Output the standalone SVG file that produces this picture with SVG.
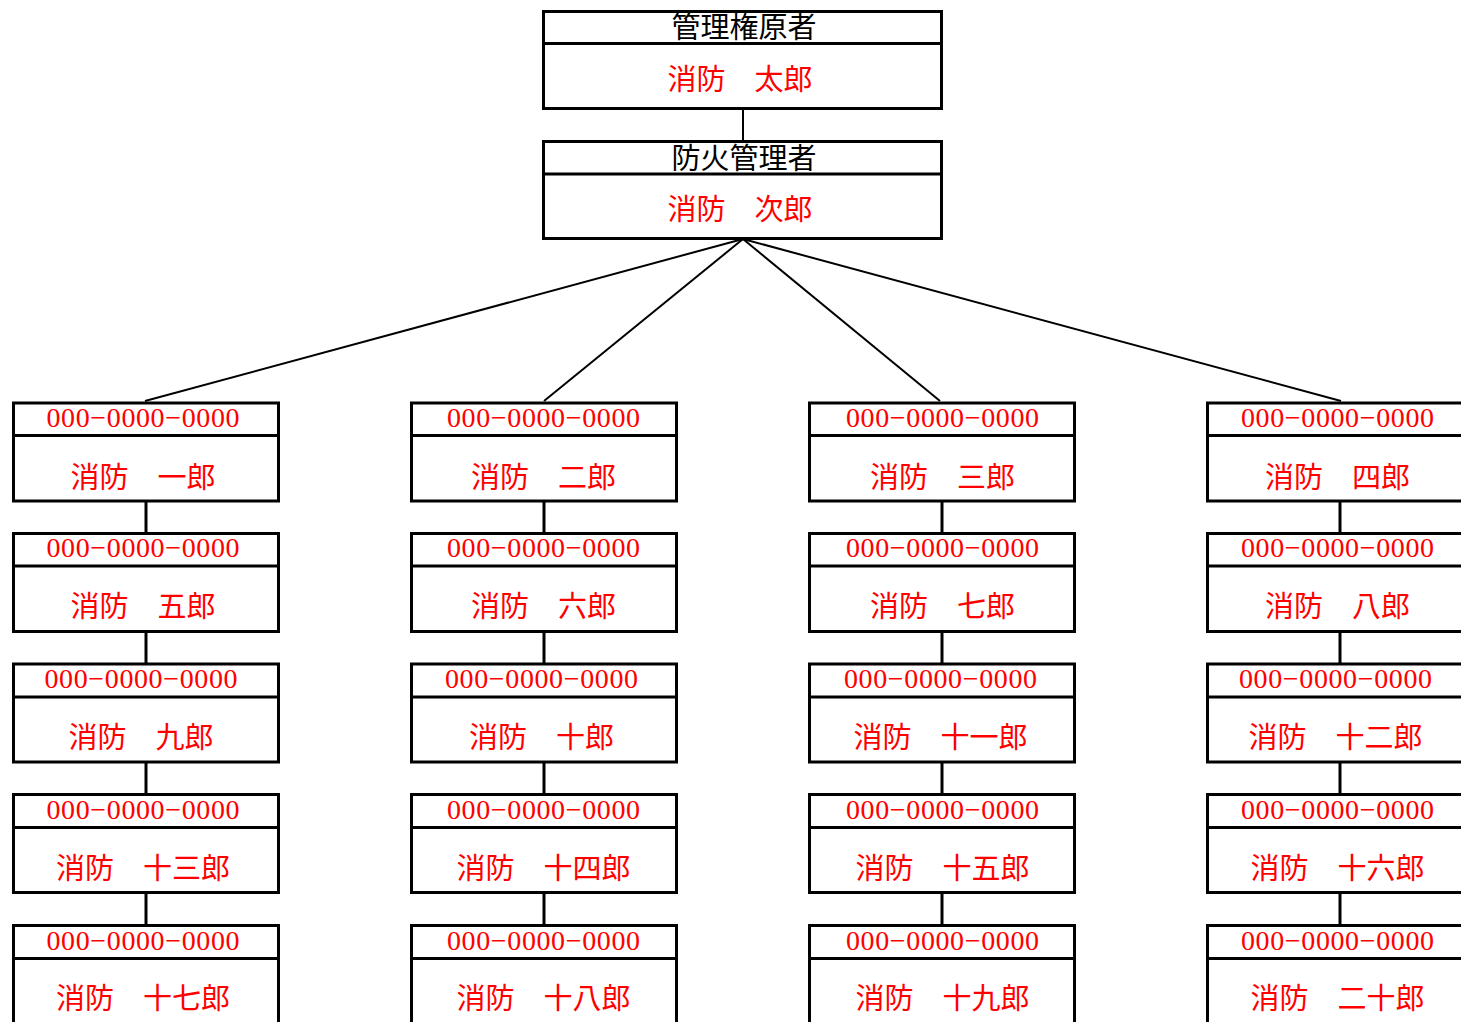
<svg xmlns="http://www.w3.org/2000/svg" width="1461" height="1022" viewBox="0 0 1461 1022">
<style>
.box{fill:#fff;stroke:#000;stroke-width:3}
.div{stroke:#000;stroke-width:3}
.hd{font-family:"Liberation Serif","Noto Sans CJK JP",serif;font-size:29px;fill:#000;text-anchor:middle}
.nm{font-family:"Liberation Serif","Noto Sans CJK JP",serif;font-size:29px;fill:#f00;text-anchor:middle}
.ph{font-family:"Liberation Serif",serif;font-size:28px;fill:#f00;text-anchor:middle}
.c{stroke:#000;fill:none}
</style>
<rect width="1461" height="1022" fill="#fff"/>
<g id="connectors">
<line class="c" x1="743" y1="109" x2="743" y2="141" stroke-width="2"/>
<line class="c" x1="743" y1="239" x2="145" y2="401" stroke-width="2"/>
<line class="c" x1="743" y1="239" x2="544" y2="401" stroke-width="2"/>
<line class="c" x1="743" y1="239" x2="940" y2="401" stroke-width="2"/>
<line class="c" x1="743" y1="239" x2="1341" y2="401" stroke-width="2"/>
<g stroke-width="3" class="c">
<line class="c" x1="146" y1="501" x2="146" y2="533"/>
<line class="c" x1="146" y1="631" x2="146" y2="664"/>
<line class="c" x1="146" y1="762" x2="146" y2="794"/>
<line class="c" x1="146" y1="892" x2="146" y2="925"/>
<line class="c" x1="544" y1="501" x2="544" y2="533"/>
<line class="c" x1="544" y1="631" x2="544" y2="664"/>
<line class="c" x1="544" y1="762" x2="544" y2="794"/>
<line class="c" x1="544" y1="892" x2="544" y2="925"/>
<line class="c" x1="942" y1="501" x2="942" y2="533"/>
<line class="c" x1="942" y1="631" x2="942" y2="664"/>
<line class="c" x1="942" y1="762" x2="942" y2="794"/>
<line class="c" x1="942" y1="892" x2="942" y2="925"/>
<line class="c" x1="1340" y1="501" x2="1340" y2="533"/>
<line class="c" x1="1340" y1="631" x2="1340" y2="664"/>
<line class="c" x1="1340" y1="762" x2="1340" y2="794"/>
<line class="c" x1="1340" y1="892" x2="1340" y2="925"/>
</g>
</g>
<g id="n-top">
<rect class="box" x="543.5" y="11.5" width="398" height="97"/>
<line class="div" x1="543.5" y1="43.5" x2="941.5" y2="43.5"/>
<text class="hd" x="744" y="37.5">管理権原者</text>
<text class="nm" x="740" y="90">消防　太郎</text>
</g>
<g id="n-fire">
<rect class="box" x="543.5" y="141.5" width="398" height="97"/>
<line class="div" x1="543.5" y1="174" x2="941.5" y2="174"/>
<text class="hd" x="744" y="168.5">防火管理者</text>
<text class="nm" x="740" y="219.5">消防　次郎</text>
</g>
<g id="n1"><rect class="box" x="13.5" y="403" width="265" height="98"/><line class="div" x1="13.5" y1="435.5" x2="278.5" y2="435.5"/><text class="ph" x="143" y="426.5" textLength="193">000−0000−0000</text><text class="nm" x="143" y="487.5">消防　一郎</text></g>
<g id="n2"><rect class="box" x="411.5" y="403" width="265" height="98"/><line class="div" x1="411.5" y1="435.5" x2="676.5" y2="435.5"/><text class="ph" x="543.5" y="426.5" textLength="193">000−0000−0000</text><text class="nm" x="543.5" y="487.5">消防　二郎</text></g>
<g id="n3"><rect class="box" x="809.5" y="403" width="265" height="98"/><line class="div" x1="809.5" y1="435.5" x2="1074.5" y2="435.5"/><text class="ph" x="942.5" y="426.5" textLength="193">000−0000−0000</text><text class="nm" x="942.5" y="487.5">消防　三郎</text></g>
<g id="n4"><rect class="box" x="1207.5" y="403" width="265" height="98"/><line class="div" x1="1207.5" y1="435.5" x2="1472.5" y2="435.5"/><text class="ph" x="1337.5" y="426.5" textLength="193">000−0000−0000</text><text class="nm" x="1337.5" y="487.5">消防　四郎</text></g>

<g id="n5"><rect class="box" x="13.5" y="533.5" width="265" height="98"/><line class="div" x1="13.5" y1="566" x2="278.5" y2="566"/><text class="ph" x="143" y="557" textLength="193">000−0000−0000</text><text class="nm" x="143" y="617">消防　五郎</text></g>
<g id="n6"><rect class="box" x="411.5" y="533.5" width="265" height="98"/><line class="div" x1="411.5" y1="566" x2="676.5" y2="566"/><text class="ph" x="543.5" y="557" textLength="193">000−0000−0000</text><text class="nm" x="543.5" y="617">消防　六郎</text></g>
<g id="n7"><rect class="box" x="809.5" y="533.5" width="265" height="98"/><line class="div" x1="809.5" y1="566" x2="1074.5" y2="566"/><text class="ph" x="942.5" y="557" textLength="193">000−0000−0000</text><text class="nm" x="942.5" y="617">消防　七郎</text></g>
<g id="n8"><rect class="box" x="1207.5" y="533.5" width="265" height="98"/><line class="div" x1="1207.5" y1="566" x2="1472.5" y2="566"/><text class="ph" x="1337.5" y="557" textLength="193">000−0000−0000</text><text class="nm" x="1337.5" y="617">消防　八郎</text></g>

<g id="n9"><rect class="box" x="13.5" y="664" width="265" height="98"/><line class="div" x1="13.5" y1="697" x2="278.5" y2="697"/><text class="ph" x="141" y="687.5" textLength="193">000−0000−0000</text><text class="nm" x="141" y="747.5">消防　九郎</text></g>
<g id="n10"><rect class="box" x="411.5" y="664" width="265" height="98"/><line class="div" x1="411.5" y1="697" x2="676.5" y2="697"/><text class="ph" x="541.5" y="687.5" textLength="193">000−0000−0000</text><text class="nm" x="541.5" y="747.5">消防　十郎</text></g>
<g id="n11"><rect class="box" x="809.5" y="664" width="265" height="98"/><line class="div" x1="809.5" y1="697" x2="1074.5" y2="697"/><text class="ph" x="940.5" y="687.5" textLength="193">000−0000−0000</text><text class="nm" x="940.5" y="747.5">消防　十一郎</text></g>
<g id="n12"><rect class="box" x="1207.5" y="664" width="265" height="98"/><line class="div" x1="1207.5" y1="697" x2="1472.5" y2="697"/><text class="ph" x="1335.5" y="687.5" textLength="193">000−0000−0000</text><text class="nm" x="1335.5" y="747.5">消防　十二郎</text></g>

<g id="n13"><rect class="box" x="13.5" y="794.5" width="265" height="98"/><line class="div" x1="13.5" y1="827.5" x2="278.5" y2="827.5"/><text class="ph" x="143" y="819" textLength="193">000−0000−0000</text><text class="nm" x="143" y="878.5">消防　十三郎</text></g>
<g id="n14"><rect class="box" x="411.5" y="794.5" width="265" height="98"/><line class="div" x1="411.5" y1="827.5" x2="676.5" y2="827.5"/><text class="ph" x="543.5" y="819" textLength="193">000−0000−0000</text><text class="nm" x="543.5" y="878.5">消防　十四郎</text></g>
<g id="n15"><rect class="box" x="809.5" y="794.5" width="265" height="98"/><line class="div" x1="809.5" y1="827.5" x2="1074.5" y2="827.5"/><text class="ph" x="942.5" y="819" textLength="193">000−0000−0000</text><text class="nm" x="942.5" y="878.5">消防　十五郎</text></g>
<g id="n16"><rect class="box" x="1207.5" y="794.5" width="265" height="98"/><line class="div" x1="1207.5" y1="827.5" x2="1472.5" y2="827.5"/><text class="ph" x="1337.5" y="819" textLength="193">000−0000−0000</text><text class="nm" x="1337.5" y="878.5">消防　十六郎</text></g>

<g id="n17"><rect class="box" x="13.5" y="925.5" width="265" height="98"/><line class="div" x1="13.5" y1="958.5" x2="278.5" y2="958.5"/><text class="ph" x="143" y="950" textLength="193">000−0000−0000</text><text class="nm" x="143" y="1008.5">消防　十七郎</text></g>
<g id="n18"><rect class="box" x="411.5" y="925.5" width="265" height="98"/><line class="div" x1="411.5" y1="958.5" x2="676.5" y2="958.5"/><text class="ph" x="543.5" y="950" textLength="193">000−0000−0000</text><text class="nm" x="543.5" y="1008.5">消防　十八郎</text></g>
<g id="n19"><rect class="box" x="809.5" y="925.5" width="265" height="98"/><line class="div" x1="809.5" y1="958.5" x2="1074.5" y2="958.5"/><text class="ph" x="942.5" y="950" textLength="193">000−0000−0000</text><text class="nm" x="942.5" y="1008.5">消防　十九郎</text></g>
<g id="n20"><rect class="box" x="1207.5" y="925.5" width="265" height="98"/><line class="div" x1="1207.5" y1="958.5" x2="1472.5" y2="958.5"/><text class="ph" x="1337.5" y="950" textLength="193">000−0000−0000</text><text class="nm" x="1337.5" y="1008.5">消防　二十郎</text></g>
</svg>
